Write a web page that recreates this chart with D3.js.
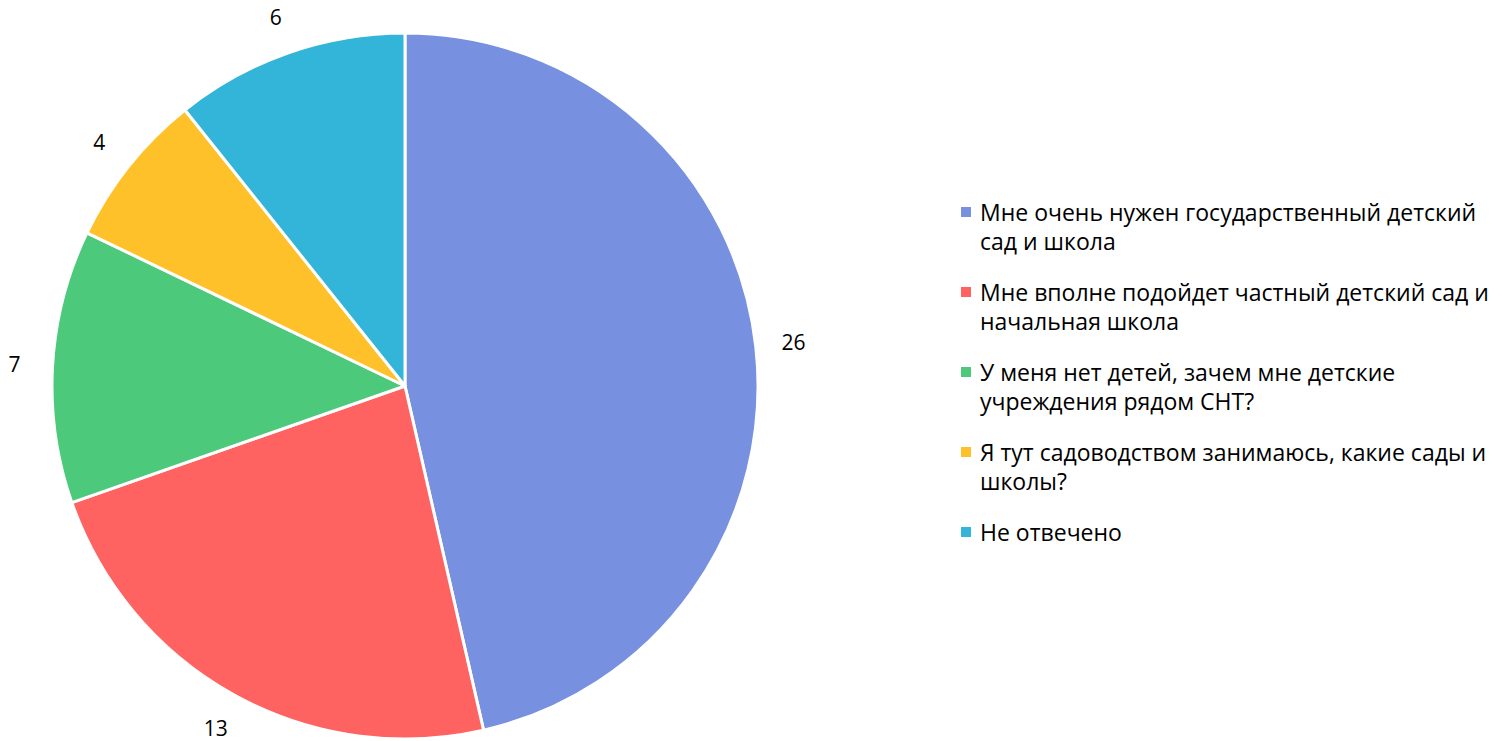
<!DOCTYPE html>
<html>
<head>
<meta charset="utf-8">
<script src="https://cdn.jsdelivr.net/npm/d3@7"></script>
<style>
  body { margin: 0; background: #fff; }
  text { font-family: "Open Sans", "Liberation Sans", Arial, sans-serif; fill: #000; }
</style>
</head>
<body>
<div id="vizDiv"></div>
<script>
var width = 1510
var height = 741

var categories = [
  "Мне очень нужен государственный детский сад и школа",
  "Мне вполне подойдет частный детский сад и начальная школа",
  "У меня нет детей, зачем мне детские учреждения рядом СНТ?",
  "Я тут садоводством занимаюсь, какие сады и школы?",
  "Не отвечено"
]
var legendLines = [
  ["Мне очень нужен государственный детский", "сад и школа"],
  ["Мне вполне подойдет частный детский сад и", "начальная школа"],
  ["У меня нет детей, зачем мне детские", "учреждения рядом СНТ?"],
  ["Я тут садоводством занимаюсь, какие сады и", "школы?"],
  ["Не отвечено"]
]
var values = [26, 13, 7, 4, 6]
var colors = ["#7790E0", "#FF6361", "#4CC97A", "#FFC12A", "#33B5DA"]

var cx = 405, cy = 386, radius = 353
var labelRadius = 391

var svg = d3.select("#vizDiv")
  .append("svg")
  .attr("width", width)
  .attr("height", height)

var pie = d3.pie().sort(null).value(function(d) { return d })
var arcs = pie(values)
var arc = d3.arc().innerRadius(0).outerRadius(radius)
var labelArc = d3.arc().innerRadius(labelRadius).outerRadius(labelRadius)

var g = svg.append("g").attr("transform", "translate(" + cx + "," + cy + ")")

g.selectAll("path")
  .data(arcs)
  .enter()
  .append("path")
  .attr("d", arc)
  .attr("fill", function(d, i) { return colors[i] })
  .attr("stroke", "#fff")
  .attr("stroke-width", 3)
  .attr("stroke-linejoin", "round")

g.selectAll(".lbl")
  .data(arcs)
  .enter()
  .append("text")
  .attr("class", "lbl")
  .attr("x", function(d) { return labelArc.centroid(d)[0] })
  .attr("y", function(d) { return labelArc.centroid(d)[1] })
  .attr("text-anchor", "middle")
  .attr("dominant-baseline", "central")
  .style("font-size", "21px")
  .text(function(d) { return d.data })

// legend
var legendX = 961, legendY = 212, itemGap = 80, lineH = 29
var legend = svg.append("g")
for (var i = 0; i < categories.length; i++) {
  var y = legendY + i * itemGap
  legend.append("rect")
    .attr("x", legendX)
    .attr("y", y - 5)
    .attr("width", 10)
    .attr("height", 10)
    .attr("fill", colors[i])
  var t = legend.append("text")
    .attr("x", legendX + 19)
    .attr("y", y)
    .attr("dominant-baseline", "central")
    .style("font-size", "23px")
  legendLines[i].forEach(function(line, j) {
    t.append("tspan")
      .attr("x", legendX + 19)
      .attr("dy", j == 0 ? 0 : lineH)
      .text(line)
  })
}
</script>
</body>
</html>
